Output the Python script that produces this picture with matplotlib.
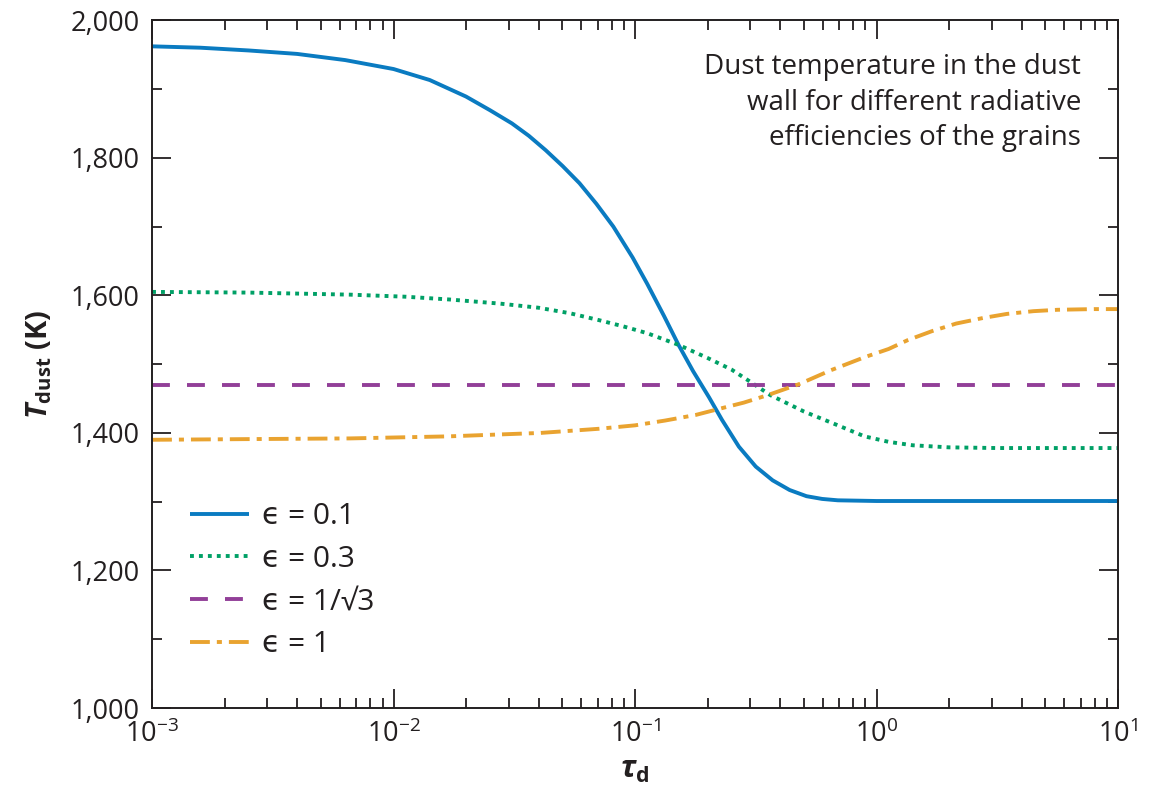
import numpy as np
import matplotlib
matplotlib.use("Agg")
import matplotlib.pyplot as plt
from matplotlib.ticker import FixedLocator, LogLocator, NullFormatter, FuncFormatter

# ---------------- data ----------------
blue_logtau = [-3.0, -2.8, -2.6, -2.4, -2.2, -2.0, -1.85, -1.7, -1.6, -1.51, -1.44, -1.37,
               -1.3, -1.23, -1.16, -1.09, -1.01, -0.95, -0.88, -0.82, -0.76, -0.694,
               -0.64, -0.57, -0.5, -0.43, -0.36, -0.29, -0.225, -0.16, 0.0, 0.5, 1.0]
blue_T = [1962, 1960, 1956, 1951, 1942, 1929, 1913, 1889, 1869, 1850, 1832, 1811,
          1788, 1763, 1733, 1700, 1655, 1617, 1570, 1528, 1490, 1452,
          1419, 1380, 1351, 1331, 1317, 1308, 1304, 1302, 1301, 1301, 1301]

green_logtau = [-3.0, -2.6, -2.18, -1.95, -1.77, -1.56, -1.4, -1.27, -1.15, -1.05, -0.95,
                -0.82, -0.7, -0.6, -0.53, -0.44, -0.3, -0.16, -0.05, 0.05, 0.15, 0.3,
                0.5, 1.0]
green_T = [1605, 1604, 1601, 1598, 1594, 1588, 1582, 1574, 1564, 1555, 1545,
           1528, 1509, 1492, 1476, 1455, 1431, 1411, 1395, 1387, 1382, 1379,
           1378, 1378]

purple_logtau = [-3.0, 1.0]
purple_T = [1470, 1470]

orange_logtau = [-3.0, -2.6, -2.18, -1.77, -1.39, -1.15, -1.0, -0.875, -0.75, -0.64, -0.55,
                 -0.45, -0.32, -0.19, -0.05, 0.05, 0.13, 0.23, 0.33, 0.44, 0.54, 0.65,
                 0.75, 0.9, 1.0]
orange_T = [1390, 1391, 1392, 1395, 1400, 1406, 1411, 1418, 1426, 1436, 1444,
            1455, 1471, 1491, 1510, 1522, 1535, 1548, 1559, 1567, 1573, 1577,
            1579, 1580, 1580]

labels = ["\u03f5 = 0.1", "\u03f5 = 0.3", "\u03f5 = 1/\u221a3", "\u03f5 = 1"]
y_ticks = [1000, 1200, 1400, 1600, 1800, 2000]
annotation = "Dust temperature in the dust\nwall for different radiative\nefficiencies of the grains"

# ---------------- style ----------------
FONT = ["Open Sans", "DejaVu Sans"]
plt.rcParams["font.family"] = FONT
plt.rcParams["mathtext.fontset"] = "custom"
plt.rcParams["mathtext.rm"] = "Open Sans"
plt.rcParams["mathtext.it"] = "Open Sans:italic"
plt.rcParams["mathtext.bf"] = "Open Sans:bold"
plt.rcParams["mathtext.bfit"] = "Open Sans:bold:italic"
plt.rcParams["axes.unicode_minus"] = True

TXT = "#231f20"
FS = 19.5

fig = plt.figure(figsize=(11.52, 7.92), dpi=100)
ax = fig.add_axes([0.132, 0.106, 0.8385, 0.8685])

lw = 2.8
ax.plot(10 ** np.array(blue_logtau), blue_T, color="#0a7bc1", lw=lw,
        solid_capstyle="butt", solid_joinstyle="round", label=labels[0])
ax.plot(10 ** np.array(green_logtau), green_T, color="#00a066", lw=lw,
        dashes=(1.0, 1.3), dash_capstyle="butt", label=labels[1])
ax.plot(10 ** np.array(purple_logtau), purple_T, color="#923f98", lw=lw,
        dashes=(4.6, 4.4), dash_capstyle="butt", label=labels[2])
ax.plot(10 ** np.array(orange_logtau), orange_T, color="#e9a330", lw=lw,
        dashes=(5.1, 1.8, 1.3, 1.8), dash_capstyle="butt", label=labels[3])

ax.set_xscale("log")
ax.set_xlim(1e-3, 1e1)
ax.set_ylim(1000, 2000)

ax.xaxis.set_major_locator(LogLocator(base=10, numticks=10))
ax.xaxis.set_minor_locator(LogLocator(base=10, subs=np.arange(2, 10), numticks=50))
ax.xaxis.set_minor_formatter(NullFormatter())
ax.xaxis.set_major_formatter(FuncFormatter(lambda v, p: r"$10^{%d}$" % int(round(np.log10(v)))))

ax.yaxis.set_major_locator(FixedLocator(y_ticks))
ax.yaxis.set_minor_locator(FixedLocator(np.arange(1100, 2000, 200)))
ax.yaxis.set_major_formatter(FuncFormatter(lambda v, p: f"{int(v):,}"))

ax.tick_params(which="both", direction="in", top=True, right=True, colors=TXT,
               labelsize=FS, width=1.3)
ax.tick_params(which="major", length=14, pad=9)
ax.tick_params(which="minor", length=7)
for s in ax.spines.values():
    s.set_linewidth(1.4)
    s.set_color(TXT)

ax.set_xlabel(r"$\mathbfit{\tau}_{\mathbf{d}}$", fontsize=22, color=TXT, labelpad=4)
ax.set_ylabel(r"$\mathbfit{T}_{\mathbf{dust}}$ (K)", fontsize=21, color=TXT,
              fontweight="bold", labelpad=12)

ax.text(0.962, 0.953, annotation, transform=ax.transAxes, ha="right", va="top",
        fontsize=20, color=TXT, linespacing=1.38)

leg = ax.legend(loc="center left", bbox_to_anchor=(0.039, 0.185), frameon=False,
                prop={"family": FONT, "size": 21.5}, handlelength=2.0,
                handletextpad=0.43, labelspacing=0.46, borderpad=0, borderaxespad=0)
for t in leg.get_texts():
    t.set_color(TXT)

fig.savefig("out.png", dpi=100)
